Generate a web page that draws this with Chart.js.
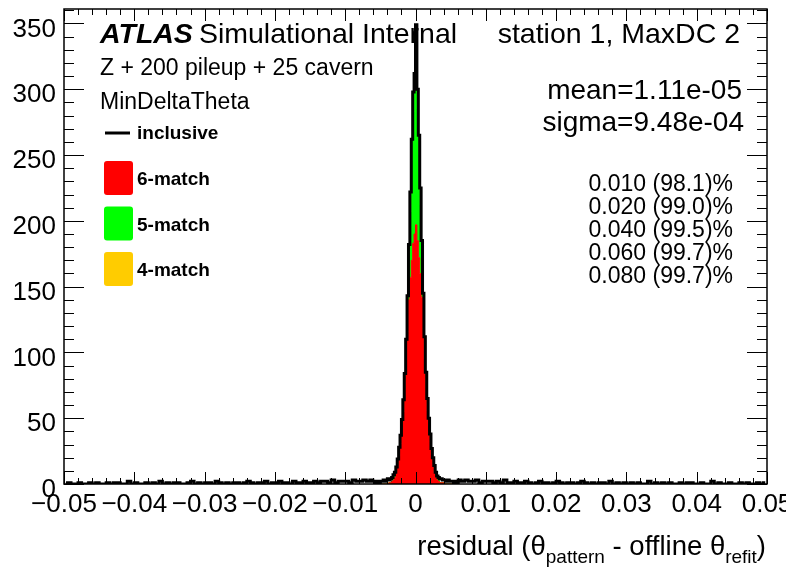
<!DOCTYPE html>
<html>
<head>
<meta charset="utf-8">
<script src="https://cdn.jsdelivr.net/npm/chart.js@4.4.0/dist/chart.umd.min.js"></script>
<style>
  html, body { margin: 0; padding: 0; background: #fff; }
  #wrap { width: 786px; height: 573px; position: relative; }
</style>
</head>
<body>
<div id="wrap"><canvas id="residual"></canvas></div>
<script>
// histogram binning: fine bins in the core, wider bins in the tails
const xMin = -0.05, xMax = 0.05;
const coreEdge = 0.006;
const coreWidth = 0.0002;
const tailWidth = 0.0005;
const yMax = 361;

// inclusive counts, tails (-0.05 .. -0.006 and 0.006 .. 0.05)
const leftTail = [
  0,1,0,0,1,0,0,1,0,1, 0,0,1,0,1,1,0,0,2,0, 1,0,0,1,0,1,0,2,0,1,
  0,1,1,0,0,1,2,0,1,0, 1,1,0,2,1,0,1,0,1,1, 0,1,2,1,0,1,1,2,0,1,
  1,2,1,1,0,2,1,1,2,1, 1,2,1,2,2,1,3,1,2,2, 2,1,3,2,2,3,2,3
];
const rightTail = [
  3,2,3,2,2,3,1,2, 2,2,1,2,1,3,1,1,2,1, 1,2,1,0,1,2,1,1,0,1,
  2,1,0,1,1,0,1,2,1,0, 1,0,1,1,0,2,0,1,0,1, 0,1,0,1,0,0,2,0,1,0,
  1,0,1,0,0,1,0,1,1,0, 0,1,0,0,2,0,1,0,0,1, 0,0,1,0,1,0,0,1,0,1
];

// core counts (-0.006 .. 0.006)
const inclusiveCore = [
  2,1,2,2,1,2,2,3,2,3,4,3,4,5,7,9,13,19,28,37,49,64,84,110,143,182,222,262,298,312,
  349,300,265,225,185,145,112,85,65,50,38,27,20,14,9,6,5,4,4,3,3,3,2,3,2,2,2,1,2,1
];
const sixMatchCore = [
  0,0,0,0,0,0,0,0,0,0,0,1,1,2,3,5,8,14,21,31,42,55,72,94,116,140,157,170,183,190,
  197,185,172,160,142,118,95,73,56,43,32,22,15,9,5,3,2,1,1,1,0,0,0,0,0,0,0,0,0,0
];
const fiveMatchCore = [
  0,0,0,0,0,0,0,0,0,0,0,0,0,0,1,1,2,2,2,3,4,6,8,12,21,33,50,76,100,110,
  140,100,78,52,34,20,12,8,5,4,3,2,2,1,1,1,1,0,0,0,0,0,0,0,0,0,0,0,0,0
];
const fourMatchCore = [
  0,0,0,0,0,0,0,0,0,0,0,0,0,0,0,1,1,1,1,1,1,2,2,3,3,4,5,5,5,5,
  5,5,5,5,4,3,3,2,2,1,1,1,1,1,1,0,0,0,0,0,0,0,0,0,0,0,0,0,0,0
];

const seriesNames = ["inclusive", "6-match", "5-match", "4-match"];
const seriesColors = ["#000000", "#ff0000", "#00ff00", "#ffcc00"];

const xTicks = [-0.05, -0.04, -0.03, -0.02, -0.01, 0, 0.01, 0.02, 0.03, 0.04, 0.05];
const yTicks = [0, 50, 100, 150, 200, 250, 300, 350];

const cutWindows = ["0.010", "0.020", "0.040", "0.060", "0.080"];
const cutFractions = ["98.1", "99.0", "99.5", "99.7", "99.7"];
const meanText = "mean=1.11e-05";
const sigmaText = "sigma=9.48e-04";

const FONT = "'Liberation Sans', Arial, Helvetica, sans-serif";

function binCenters(lo, width, n) {
  let c = [];
  for (let i = 0; i < n; i++) c.push(lo + (i + 0.5) * width);
  return c;
}
function points(xs, ys) {
  return xs.map((x, i) => ({ x: x, y: ys[i] }));
}

const leftX = binCenters(xMin, tailWidth, leftTail.length);
const coreX = binCenters(-coreEdge, coreWidth, inclusiveCore.length);
const rightX = binCenters(coreEdge, tailWidth, rightTail.length);

const inclusivePts = points(leftX, leftTail).concat(points(coreX, inclusiveCore), points(rightX, rightTail));

function fmtX(v) {
  if (Math.abs(v) < 1e-9) return "0";
  return (v < 0 ? "\u2212" : "") + Math.abs(v).toFixed(2);
}

// ROOT-like frame, inner ticks and all the text on the pad
const rootStyle = {
  id: "rootStyle",
  afterDraw(chart) {
    const ctx = chart.ctx, area = chart.chartArea;
    const xs = chart.scales.x, ys = chart.scales.y;
    ctx.save();
    ctx.strokeStyle = "#000";
    ctx.lineWidth = 1;
    ctx.beginPath();
    for (let i = 0; i <= 50; i++) {
      const px = Math.round(xs.getPixelForValue(xMin + i * 0.002)) + 0.5;
      const len = i % 5 === 0 ? 12 : 6;
      ctx.moveTo(px, area.bottom); ctx.lineTo(px, area.bottom - len);
      ctx.moveTo(px, area.top); ctx.lineTo(px, area.top + len);
    }
    for (let v = 0; v <= yMax; v += 10) {
      const py = Math.round(ys.getPixelForValue(v)) + 0.5;
      const len = v % 50 === 0 ? 20 : 10;
      ctx.moveTo(area.left, py); ctx.lineTo(area.left + len, py);
      ctx.moveTo(area.right, py); ctx.lineTo(area.right - len, py);
    }
    ctx.stroke();
    ctx.lineWidth = 1.5;
    ctx.strokeRect(area.left, area.top, area.right - area.left, area.bottom - area.top);

    ctx.fillStyle = "#000";
    ctx.textBaseline = "alphabetic";
    ctx.textAlign = "left";
    ctx.font = "italic bold 28.5px " + FONT;
    ctx.fillText("ATLAS", 100, 43);
    const aw = ctx.measureText("ATLAS").width;
    ctx.font = "28.5px " + FONT;
    ctx.fillText("Simulational Internal", 100 + aw + 6, 43);
    ctx.textAlign = "right";
    ctx.fillText("station 1, MaxDC 2", 740, 43);

    ctx.textAlign = "left";
    ctx.font = "23px " + FONT;
    ctx.fillText("Z + 200 pileup + 25 cavern", 100, 75);
    ctx.fillText("MinDeltaTheta", 100, 109);

    // legend
    ctx.font = "bold 19px " + FONT;
    ctx.strokeStyle = seriesColors[0];
    ctx.lineWidth = 3;
    ctx.beginPath();
    ctx.moveTo(105, 133); ctx.lineTo(130, 133);
    ctx.stroke();
    ctx.fillText(seriesNames[0], 137, 139);
    for (let i = 1; i < seriesNames.length; i++) {
      const top = 161 + (i - 1) * 45.5;
      ctx.fillStyle = seriesColors[i];
      ctx.beginPath();
      ctx.roundRect(104, top, 29, 34, 3);
      ctx.fill();
      ctx.fillStyle = "#000";
      ctx.fillText(seriesNames[i], 137, top + 24);
    }

    // fit numbers
    ctx.textAlign = "right";
    ctx.font = "28px " + FONT;
    ctx.fillText(meanText, 742, 99);
    ctx.fillText(sigmaText, 744, 131);
    ctx.font = "23px " + FONT;
    for (let i = 0; i < cutWindows.length; i++) {
      ctx.fillText(cutWindows[i] + " (" + cutFractions[i] + ")%", 733, 191 + i * 23);
    }

    // x axis title with subscripts
    const parts = [
      ["residual (\u03b8", 27.5, 0], ["pattern", 19, 8], [" - offline \u03b8", 27.5, 0], ["refit", 19, 8], [")", 27.5, 0]
    ];
    let total = 0;
    for (const p of parts) { ctx.font = p[1] + "px " + FONT; total += ctx.measureText(p[0]).width; }
    let x = 766 - total;
    ctx.textAlign = "left";
    for (const p of parts) {
      ctx.font = p[1] + "px " + FONT;
      ctx.fillText(p[0], x, 555 + p[2]);
      x += ctx.measureText(p[0]).width;
    }
    ctx.restore();
  }
};

function histSet(name, color, xsArr, ys, fill) {
  return {
    label: name,
    data: points(xsArr, ys),
    stack: "match",
    backgroundColor: color,
    borderColor: color,
    borderWidth: 1,
    fill: fill,
    stepped: "middle",
    pointRadius: 0
  };
}

new Chart(document.getElementById("residual"), {
  type: "line",
  data: {
    datasets: [
      {
        label: seriesNames[0],
        data: inclusivePts,
        stack: "all",
        borderColor: seriesColors[0],
        borderWidth: 3,
        fill: false,
        stepped: "middle",
        pointRadius: 0
      },
      histSet(seriesNames[1], seriesColors[1], coreX, sixMatchCore, "origin"),
      histSet(seriesNames[2], seriesColors[2], coreX, fiveMatchCore, "-1"),
      histSet(seriesNames[3], seriesColors[3], coreX, fourMatchCore, "-1")
    ]
  },
  options: {
    responsive: true,
    maintainAspectRatio: false,
    animation: false,
    layout: { padding: { left: 0, top: 9, right: 19, bottom: 0 } },
    plugins: { legend: { display: false }, tooltip: { enabled: false } },
    scales: {
      x: {
        type: "linear",
        min: xMin,
        max: xMax,
        grid: { display: false, drawTicks: false },
        border: { display: false },
        ticks: {
          color: "#000",
          font: { size: 26, family: FONT },
          padding: 5,
          maxRotation: 0,
          autoSkip: false,
          callback: v => fmtX(v)
        },
        afterBuildTicks: s => { s.ticks = xTicks.map(v => ({ value: v })); },
        afterFit: s => { s.height = 89; s.paddingLeft = 0; s.paddingRight = 0; }
      },
      y: {
        stacked: true,
        min: 0,
        max: yMax,
        grid: { display: false, drawTicks: false },
        border: { display: false },
        ticks: {
          color: "#000",
          font: { size: 26, family: FONT },
          padding: 8,
          labelOffset: 6
        },
        afterBuildTicks: s => { s.ticks = yTicks.map(v => ({ value: v })); },
        afterFit: s => { s.width = 64; s.paddingTop = 0; s.paddingBottom = 0; }
      }
    }
  },
  plugins: [rootStyle]
});
</script>
</body>
</html>
